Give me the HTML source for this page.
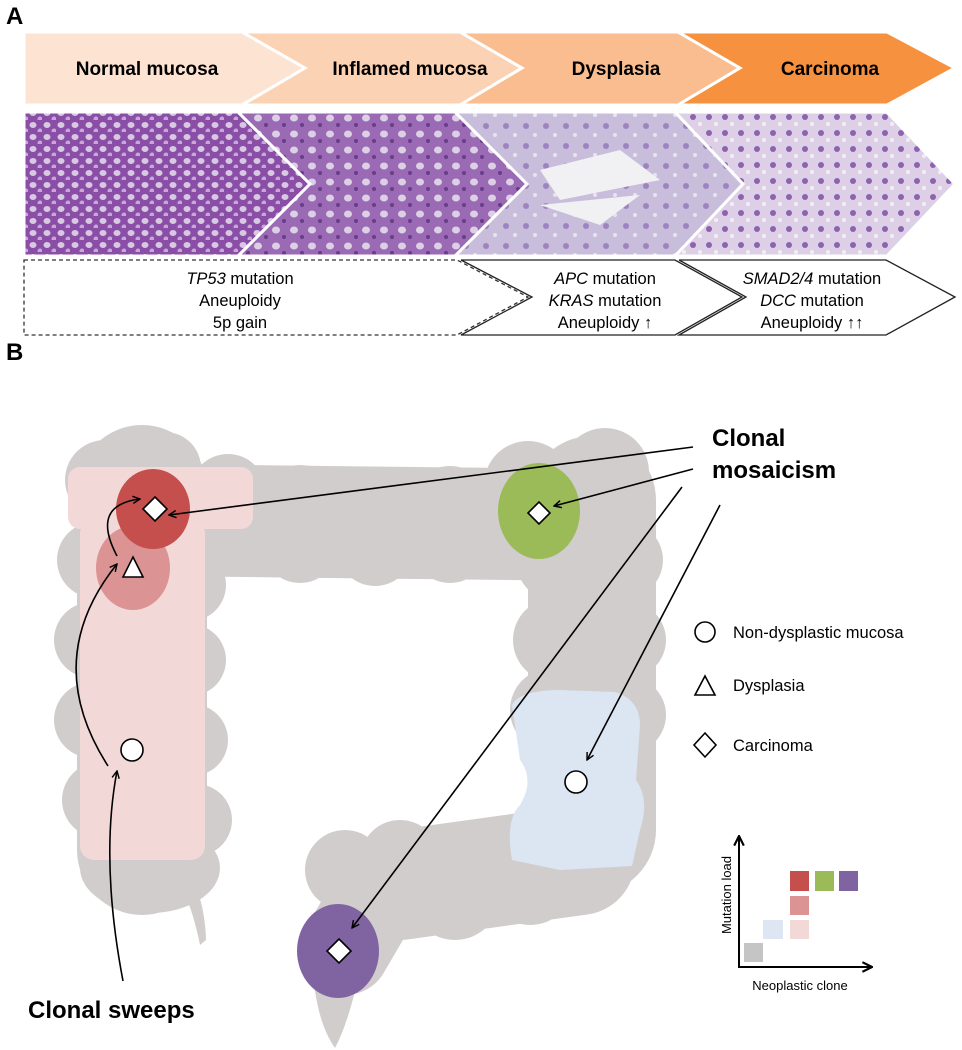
<!DOCTYPE html>
<html><head><meta charset="utf-8"><style>
html,body{margin:0;padding:0;background:#fff}
svg{display:block}
text{font-family:"Liberation Sans",Arial,sans-serif}
</style></head><body>
<svg width="962" height="1050" viewBox="0 0 962 1050" xmlns="http://www.w3.org/2000/svg">
<defs>
<pattern id="p1" width="14" height="12" patternUnits="userSpaceOnUse">
<rect width="14" height="12" fill="#8a4ea6"/>
<ellipse cx="5" cy="5" rx="3.5" ry="3" fill="#d8c8e4"/>
<ellipse cx="12" cy="11" rx="2.5" ry="2.5" fill="#c4a8d6"/>
</pattern>
<pattern id="p2" width="18" height="16" patternUnits="userSpaceOnUse">
<rect width="18" height="16" fill="#9a6ab4"/>
<ellipse cx="6" cy="6" rx="4" ry="3.5" fill="#dccfe6"/>
<circle cx="14" cy="13" r="2" fill="#6a3a8c"/>
</pattern>
<pattern id="p3" width="20" height="20" patternUnits="userSpaceOnUse">
<rect width="20" height="20" fill="#c9bddc"/>
<circle cx="6" cy="6" r="3" fill="#9d84c0"/>
<circle cx="15" cy="15" r="2" fill="#e8e4ee"/>
</pattern>
<pattern id="p4" width="16" height="16" patternUnits="userSpaceOnUse">
<rect width="16" height="16" fill="#ddd0e6"/>
<circle cx="5" cy="5" r="3" fill="#8d62b0"/>
<circle cx="12" cy="12" r="2" fill="#f2eef5"/>
</pattern>
<marker id="ah" viewBox="0 0 10 10" refX="9" refY="5" markerWidth="9" markerHeight="9" orient="auto" markerUnits="userSpaceOnUse">
<path d="M1,1 L9,5 L1,9" fill="none" stroke="#000" stroke-width="1.6"/>
</marker>
<marker id="ah2" viewBox="0 0 10 10" refX="9" refY="5" markerWidth="12" markerHeight="12" orient="auto" markerUnits="userSpaceOnUse">
<path d="M1,1 L9,5 L1,9" fill="none" stroke="#000" stroke-width="1.8"/>
</marker>
</defs>

<text x="6" y="24" font-size="24" font-weight="bold">A</text>

<g stroke="#fff" stroke-width="3">
<polygon points="24,32 242,32 305,68 242,105 24,105" fill="#fde4d2"/>
<polygon points="242,32 460,32 522,68 460,105 242,105 305,68" fill="#fbd2b3"/>
<polygon points="460,32 678,32 740,68 678,105 460,105 522,68" fill="#f9bd90"/>
<polygon points="678,32 887,32 955,68 887,105 678,105 740,68" fill="#f5913f"/>
</g>
<g font-size="19" font-weight="bold" text-anchor="middle">
<text x="147" y="75">Normal mucosa</text>
<text x="410" y="75">Inflamed mucosa</text>
<text x="616" y="75">Dysplasia</text>
<text x="830" y="75">Carcinoma</text>
</g>

<g stroke="#fff" stroke-width="3">
<polygon points="24,112 238,112 310,184 238,256 24,256" fill="url(#p1)"/>
<polygon points="238,112 455,112 527,184 455,256 238,256 310,184" fill="url(#p2)"/>
<polygon points="455,112 675,112 743,184 675,256 455,256 527,184" fill="url(#p3)"/>
<polygon points="675,112 887,112 955,184 887,256 675,256 743,184" fill="url(#p4)"/>
</g>
<path d="M540,170 L620,150 L660,180 L560,200 Z M540,205 L640,195 L600,225 Z" fill="#f1f0f2"/>

<polygon points="24,260 457,260 528,297 457,335 24,335" fill="#fff" stroke="#333" stroke-width="1.3" stroke-dasharray="4,3"/>
<polygon points="461,260 675,260 742,297 675,335 461,335 532,297" fill="#fff" stroke="#222" stroke-width="1.3"/>
<polygon points="679,260 886,260 955,297 886,335 679,335 746,297" fill="#fff" stroke="#222" stroke-width="1.3"/>
<g font-size="16.5" text-anchor="middle">
<text x="240" y="284"><tspan font-style="italic">TP53</tspan> mutation</text>
<text x="240" y="306">Aneuploidy</text>
<text x="240" y="328">5p gain</text>
<text x="605" y="284"><tspan font-style="italic">APC</tspan> mutation</text>
<text x="605" y="306"><tspan font-style="italic">KRAS</tspan> mutation</text>
<text x="605" y="328">Aneuploidy ↑</text>
<text x="812" y="284"><tspan font-style="italic">SMAD2/4</tspan> mutation</text>
<text x="812" y="306"><tspan font-style="italic">DCC</tspan> mutation</text>
<text x="812" y="328">Aneuploidy ↑↑</text>
</g>

<text x="6" y="360" font-size="24" font-weight="bold">B</text>

<g fill="#d1cdcd">
<g fill="none" stroke="#d1cdcd" stroke-linecap="round" stroke-linejoin="round">
<path d="M142,490 L142,850" stroke-width="130"/>
<path d="M160,520 L590,525" stroke-width="112"/>
<path d="M592,500 L592,830" stroke-width="128"/>
<path d="M580,860 L400,885" stroke-width="110"/>
<path d="M380,890 L345,950" stroke-width="90"/>
</g>
<circle cx="105" cy="480" r="40"/><circle cx="165" cy="468" r="36"/>
<circle cx="228" cy="492" r="38"/><circle cx="300" cy="505" r="40"/><circle cx="375" cy="512" r="42"/>
<circle cx="450" cy="508" r="42"/><circle cx="528" cy="485" r="44"/><circle cx="605" cy="472" r="44"/>
<circle cx="300" cy="545" r="38"/><circle cx="375" cy="548" r="38"/><circle cx="450" cy="545" r="38"/>
<circle cx="95" cy="560" r="38"/><circle cx="92" cy="640" r="38"/><circle cx="92" cy="720" r="38"/><circle cx="100" cy="800" r="38"/>
<circle cx="190" cy="585" r="36"/><circle cx="190" cy="660" r="36"/><circle cx="192" cy="740" r="36"/><circle cx="196" cy="820" r="36"/>
<ellipse cx="150" cy="868" rx="70" ry="45"/>
<path d="M188,870 Q205,900 206,940 L200,945 Q192,905 178,880 Z"/>
<circle cx="558" cy="560" r="42"/><circle cx="555" cy="640" r="42"/><circle cx="552" cy="710" r="42"/>
<circle cx="625" cy="560" r="38"/><circle cx="628" cy="640" r="38"/><circle cx="628" cy="715" r="38"/>
<circle cx="530" cy="880" r="45"/><circle cx="455" cy="895" r="45"/><circle cx="400" cy="860" r="40"/>
<circle cx="345" cy="870" r="40"/>
<path d="M312,960 Q315,1020 335,1048 Q350,1020 362,960 Z"/>
</g>

<g fill="#f3d8d8">
<rect x="68" y="467" width="185" height="62" rx="12"/>
<rect x="80" y="520" width="125" height="340" rx="14"/>
</g>
<path d="M512,705 Q520,690 560,690 L615,692 Q640,700 640,725 L636,780 Q650,800 640,830 L632,866 L560,870 L512,860 Q505,820 520,805 Q535,780 520,760 Z" fill="#dce6f2"/>

<ellipse cx="133" cy="568" rx="37" ry="42" fill="#dc9393"/>
<ellipse cx="153" cy="509" rx="37" ry="40" fill="#c44f4c"/>
<ellipse cx="539" cy="511" rx="41" ry="48" fill="#9bbb59"/>
<ellipse cx="338" cy="951" rx="41" ry="47" fill="#8064a2"/>

<g fill="#fff" stroke="#000" stroke-width="1.6">
<polygon points="155,497 167,509 155,521 143,509"/>
<polygon points="133,557 143,577 123,577"/>
<circle cx="132" cy="750" r="11"/>
<polygon points="539,502 550,513 539,524 528,513"/>
<circle cx="576" cy="782" r="11"/>
<polygon points="339,939 351,951 339,963 327,951"/>
</g>

<g fill="none" stroke="#000" stroke-width="1.6">
<line x1="693" y1="447" x2="169" y2="515" marker-end="url(#ah)"/>
<line x1="693" y1="469" x2="554" y2="506" marker-end="url(#ah)"/>
<line x1="682" y1="487" x2="352" y2="928" marker-end="url(#ah)"/>
<line x1="720" y1="505" x2="587" y2="760" marker-end="url(#ah)"/>
<path d="M123,981 Q100,860 117,771" marker-end="url(#ah)"/>
<path d="M108,766 Q40,660 117,564" marker-end="url(#ah)"/>
<path d="M117,556 Q90,505 140,499" marker-end="url(#ah)"/>
</g>

<g font-size="24" font-weight="bold">
<text x="712" y="446">Clonal</text>
<text x="712" y="478">mosaicism</text>
<text x="28" y="1018">Clonal sweeps</text>
</g>

<g fill="#fff" stroke="#000" stroke-width="1.6">
<circle cx="705" cy="632" r="10"/>
<polygon points="705,676 715,695 695,695"/>
<polygon points="705,733 716,745 705,757 694,745"/>
</g>
<g font-size="16.5">
<text x="733" y="638">Non-dysplastic mucosa</text>
<text x="733" y="691">Dysplasia</text>
<text x="733" y="751">Carcinoma</text>
</g>

<g stroke="#000" stroke-width="2" fill="none">
<line x1="739" y1="967" x2="739" y2="836" marker-end="url(#ah2)"/>
<line x1="738" y1="967" x2="872" y2="967" marker-end="url(#ah2)"/>
</g>
<rect x="744" y="943" width="19" height="19" fill="#c5c5c5"/>
<rect x="763" y="920" width="20" height="19" fill="#dde6f2"/>
<rect x="790" y="920" width="19" height="19" fill="#f3d8d8"/>
<rect x="790" y="896" width="19" height="19" fill="#dc9393"/>
<rect x="790" y="871" width="19" height="20" fill="#c44f4c"/>
<rect x="815" y="871" width="19" height="20" fill="#9bbb59"/>
<rect x="839" y="871" width="19" height="20" fill="#8064a2"/>
<text x="800" y="990" font-size="13" text-anchor="middle">Neoplastic clone</text>
<text transform="translate(731,895) rotate(-90)" font-size="13" text-anchor="middle">Mutation load</text>
</svg>
</body></html>
